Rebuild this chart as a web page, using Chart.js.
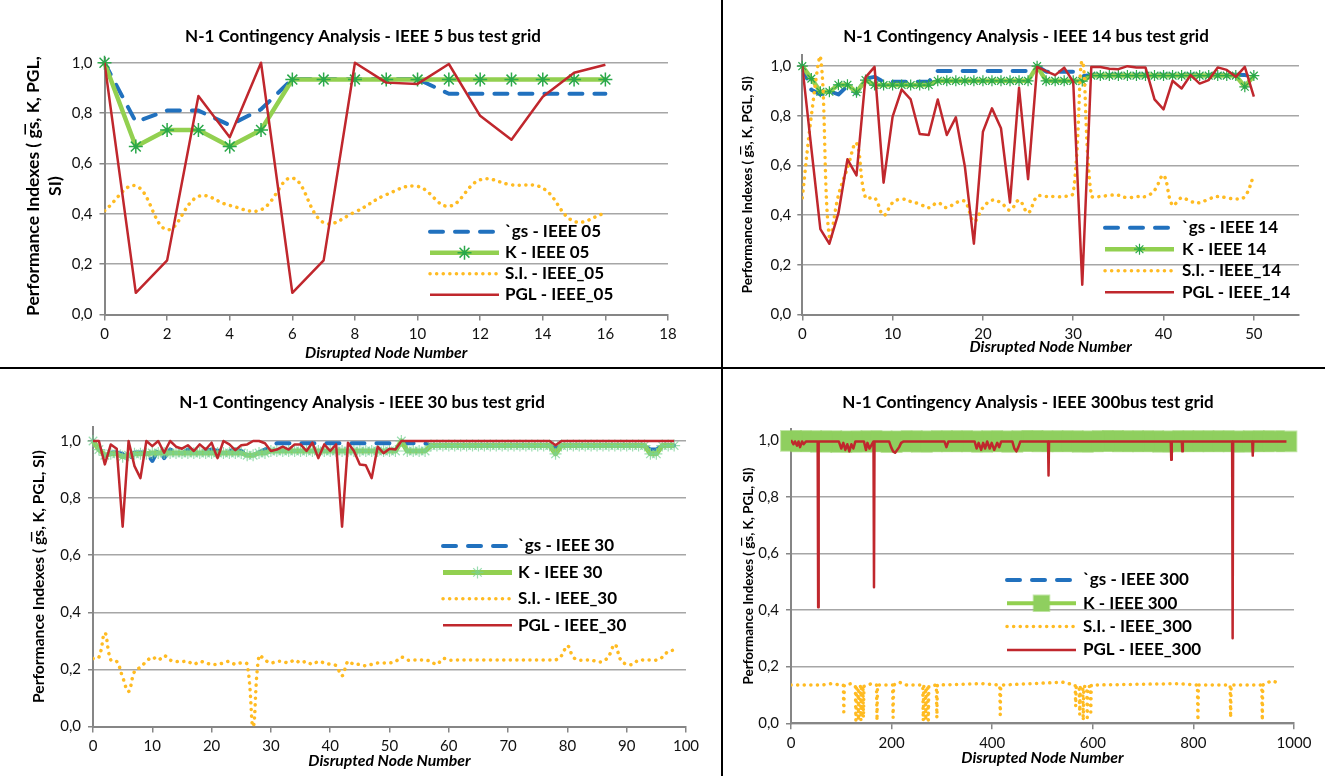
<!DOCTYPE html>
<html><head><meta charset="utf-8">
<script src="https://cdn.jsdelivr.net/npm/chart.js@4.4.1/dist/chart.umd.min.js"></script>
<style>
html,body{margin:0;padding:0;background:#fff;}
body{width:1325px;height:776px;position:relative;overflow:hidden;}
canvas{position:absolute;}
.vline{position:absolute;left:721px;top:0;width:2px;height:776px;background:#000;}
.hline{position:absolute;left:0;top:367px;width:1325px;height:2px;background:#000;}
</style></head><body>
<canvas id="c1" width="721" height="367" style="left:0;top:0"></canvas>
<canvas id="c2" width="601" height="367" style="left:724px;top:0"></canvas>
<canvas id="c3" width="721" height="406" style="left:0;top:370px"></canvas>
<canvas id="c4" width="601" height="406" style="left:724px;top:370px"></canvas>
<div class="vline"></div><div class="hline"></div>
<script>
// ---------------- DATA ----------------
const yTickLabels = ['0,0','0,2','0,4','0,6','0,8','1,0'];
const xAxisTitle = 'Disrupted Node Number';
const yAxisTitle = 'Performance Indexes ( g\u0305s, K, PGL, SI)';
const yAxisTitle2Lines = ['Performance Indexes ( g\u0305s, K, PGL,', 'SI)'];
const chartTitles = [
  'N-1 Contingency Analysis - IEEE 5 bus test grid',
  'N-1 Contingency Analysis - IEEE 14 bus test grid',
  'N-1 Contingency Analysis - IEEE 30 bus test grid',
  'N-1 Contingency Analysis - IEEE 300bus test grid'
];
const legend5   = ['`gs - IEEE 05','K - IEEE 05','S.I. - IEEE_05','PGL - IEEE_05'];
const legend14  = ['`gs - IEEE 14','K - IEEE 14','S.I. - IEEE_14','PGL - IEEE_14'];
const legend30  = ['`gs - IEEE 30','K - IEEE 30','S.I. - IEEE_30','PGL - IEEE_30'];
const legend300 = ['`gs - IEEE 300','K - IEEE 300','S.I. - IEEE_300','PGL - IEEE_300'];

// IEEE 5 (node 0..16)
const gs5  = [1.0,0.765,0.81,0.81,0.752,0.815,0.935,0.935,0.935,0.935,0.935,0.877,0.877,0.877,0.877,0.877,0.877];
const k5   = [1.0,0.667,0.733,0.733,0.667,0.733,0.933,0.933,0.933,0.933,0.933,0.933,0.933,0.933,0.933,0.933,0.933];
const si5  = [0.412,0.511,0.337,0.469,0.433,0.416,0.542,0.365,0.407,0.476,0.509,0.43,0.535,0.515,0.502,0.37,0.403];
const pgl5 = [1.0,0.086,0.215,0.868,0.704,1.0,0.086,0.215,1.0,0.921,0.916,0.995,0.789,0.694,0.865,0.96,0.992];

// IEEE 14 (node 0..50)
const gs14 = [1.0,0.905,0.886,0.9,0.886,0.92,0.89,0.95,0.957,
  0.937,0.937,0.937,0.937,0.937,0.937,
  0.981,0.981,0.981,0.981,0.981,0.981,0.981,0.981,0.981,0.981,0.981,
  1.0,0.978,0.978,0.978,0.978,0.96,
  0.965,0.965,0.965,0.965,0.965,0.965,0.965,0.965,0.965,0.965,0.965,0.965,0.965,0.965,0.965,0.965,0.965,
  0.964,0.96];
const k14 = [1.0,0.95,0.897,0.897,0.925,0.925,0.895,0.944,
  0.924,0.924,0.924,0.924,0.924,0.924,0.924,
  0.941,0.941,0.941,0.941,0.941,0.941,0.941,0.941,0.941,0.941,0.941,
  1.0,0.941,0.941,0.941,0.941,0.94,
  0.962,0.962,0.962,0.962,0.962,0.962,0.962,0.962,0.962,0.962,0.962,0.962,0.962,0.962,0.962,0.962,0.962,
  0.917,0.962];
const si14 = [0.47,0.80,1.04,0.31,0.48,0.59,0.69,0.47,0.47,0.40,
  0.45,0.465,0.455,0.445,0.43,0.45,0.43,0.45,0.455,0.375,
  0.43,0.46,0.45,0.42,0.46,0.41,0.475,0.475,0.475,0.475,
  0.49,1.02,0.48,0.475,0.48,0.48,0.47,0.475,0.475,0.50,
  0.56,0.44,0.47,0.455,0.45,0.465,0.475,0.47,0.465,0.475,0.56];
const pgl14 = [1.0,0.67,0.344,0.285,0.408,0.625,0.56,0.955,0.997,0.531,
  0.797,0.906,0.866,0.727,0.723,0.866,0.723,0.794,0.596,0.285,
  0.736,0.83,0.75,0.451,0.913,0.545,0.997,0.98,0.964,0.994,
  0.937,0.12,0.997,0.997,0.99,0.988,1.0,0.995,0.995,0.866,
  0.826,0.941,0.91,0.964,0.93,0.944,0.995,0.985,0.957,0.997,0.877];

// IEEE 30 (node 0..98)
const gs30 = [1.0,0.97,0.955,0.96,0.96,0.955,0.93,0.96,0.96,0.96,
  0.93,0.97,0.94,0.97,0.96,0.955,0.97,0.965,0.965,0.965,
  0.97,0.965,0.97,0.965,0.97,0.965,0.955,0.95,0.96,0.97,
  0.98,0.992,0.992,0.992,0.992,0.992,0.992,0.992,0.992,0.992,
  0.992,0.992,0.992,0.992,0.992,0.992,0.992,0.992,0.992,0.992,
  0.992,0.992,1.0,0.992,0.992,0.992,0.992,0.984,0.984,0.984,
  0.984,0.984,0.984,0.984,0.984,0.984,0.984,0.984,0.984,0.984,
  0.984,0.984,0.984,0.984,0.984,0.984,0.984,0.984,0.975,0.984,
  0.984,0.984,0.984,0.984,0.984,0.984,0.984,0.984,0.984,0.984,
  0.984,0.984,0.984,0.984,0.97,0.97,0.984,0.984,0.984];
const k30 = [1.0,0.97,0.95,0.955,0.955,0.945,0.95,0.955,0.955,0.955,
  0.958,0.958,0.958,0.958,0.958,0.958,0.958,0.958,0.958,0.958,
  0.958,0.958,0.958,0.958,0.958,0.958,0.95,0.95,0.958,0.958,
  0.965,0.965,0.965,0.965,0.965,0.965,0.965,0.965,0.965,0.965,
  0.965,0.965,0.965,0.965,0.965,0.965,0.965,0.965,0.965,0.965,
  0.965,0.965,1.0,0.965,0.965,0.965,0.965,0.984,0.984,0.984,
  0.984,0.984,0.984,0.984,0.984,0.984,0.984,0.984,0.984,0.984,
  0.984,0.984,0.984,0.984,0.984,0.984,0.984,0.984,0.955,0.984,
  0.984,0.984,0.984,0.984,0.984,0.984,0.984,0.984,0.984,0.984,
  0.984,0.984,0.984,0.984,0.955,0.955,0.984,0.984,0.984];
const si30 = [0.238,0.243,0.328,0.233,0.228,0.173,0.123,0.193,0.208,0.228,
  0.243,0.233,0.248,0.233,0.228,0.228,0.228,0.218,0.228,0.223,
  0.218,0.218,0.223,0.228,0.218,0.223,0.218,0.0,0.248,0.233,
  0.223,0.228,0.228,0.223,0.233,0.223,0.228,0.218,0.228,0.223,
  0.218,0.213,0.178,0.228,0.218,0.218,0.213,0.218,0.223,0.223,
  0.223,0.228,0.243,0.233,0.233,0.233,0.233,0.228,0.218,0.238,
  0.233,0.233,0.233,0.233,0.233,0.233,0.233,0.233,0.233,0.233,
  0.233,0.233,0.233,0.233,0.233,0.233,0.233,0.233,0.233,0.248,
  0.283,0.243,0.233,0.233,0.233,0.228,0.228,0.248,0.288,0.233,
  0.218,0.218,0.233,0.233,0.233,0.233,0.243,0.263,0.268];
const pgl30 = [1.0,1.0,0.918,0.988,0.973,0.70,1.0,0.912,0.87,1.0,
  0.982,1.0,0.959,1.0,0.98,0.973,0.985,0.965,0.988,0.97,
  0.994,0.94,1.0,0.988,0.968,0.985,0.988,1.0,1.0,0.992,
  0.965,0.97,0.98,0.97,0.988,0.988,0.965,0.994,0.94,0.988,
  0.965,0.988,0.70,0.994,0.965,0.918,0.915,0.87,0.98,0.957,
  0.973,0.97,1.0,1.0,1.0,1.0,1.0,1.0,1.0,1.0,
  1.0,1.0,1.0,1.0,1.0,1.0,1.0,1.0,1.0,1.0,
  1.0,1.0,1.0,1.0,1.0,1.0,1.0,1.0,0.985,1.0,
  1.0,1.0,1.0,1.0,1.0,1.0,1.0,1.0,1.0,1.0,
  1.0,1.0,1.0,1.0,1.0,1.0,1.0,1.0,1.0];

// IEEE 300 (sparse node / value pairs)
const gs300Nodes = [0,200,400,600,800,985];
const gs300Vals  = [0.99,0.99,0.99,0.99,0.99,0.99];
const k300Nodes = [0,20,40,60,80,100,120,140,160,180,200,220,240,260,280,300,320,340,360,380,400,420,440,460,480,500,520,540,560,580,600,620,640,660,680,700,720,740,760,780,800,820,840,860,880,900,920,940,960,985];
const k300Vals  = [0.997,0.995,0.996,0.994,0.996,0.993,0.995,0.994,0.996,0.995,0.993,0.995,0.996,0.994,0.995,0.996,0.995,0.996,0.995,0.994,0.996,0.995,0.994,0.996,0.997,0.995,0.996,0.995,0.996,0.994,0.995,0.996,0.997,0.995,0.996,0.995,0.996,0.994,0.995,0.996,0.995,0.996,0.995,0.996,0.995,0.994,0.996,0.995,0.996,0.995];
const si300Nodes = [0,60,80,100,104,105,106,120,128,129,130,133,134,135,138,139,140,143,144,145,160,170,171,172,202,203,204,215,230,262,263,264,267,268,269,272,273,274,289,290,291,380,415,416,417,540,565,566,567,573,574,575,580,581,582,588,589,590,595,596,597,770,808,809,810,873,874,875,936,937,938,955,975];
const si300Vals  = [0.135,0.135,0.14,0.135,0.135,0.04,0.135,0.14,0.13,0.01,0.13,0.13,0.01,0.13,0.13,0.01,0.13,0.13,0.02,0.13,0.14,0.135,0.01,0.135,0.135,0.02,0.135,0.145,0.135,0.135,0.01,0.13,0.13,0.01,0.13,0.13,0.01,0.13,0.135,0.02,0.135,0.14,0.135,0.03,0.135,0.145,0.135,0.06,0.13,0.13,0.03,0.13,0.13,0.01,0.13,0.13,0.02,0.13,0.13,0.04,0.135,0.14,0.135,0.01,0.135,0.135,0.02,0.135,0.135,0.01,0.135,0.15,0.14];
const pgl300Nodes = [0,5,8,12,15,18,22,25,30,53,54,55,95,100,104,108,112,116,120,124,128,145,149,152,156,164,165,166,195,199,203,207,211,215,219,224,305,309,313,365,369,373,378,382,386,390,395,399,404,410,414,418,440,444,448,452,456,511,512,513,755,756,757,777,778,779,877,878,879,917,918,919,985];
const pgl300Vals  = [1.0,0.985,0.995,0.98,0.995,0.975,0.995,0.985,0.995,0.995,0.41,0.995,0.995,0.97,0.99,0.965,0.985,0.96,0.985,0.97,0.995,0.995,0.965,0.99,0.97,0.995,0.48,0.995,0.995,0.975,0.96,0.955,0.965,0.975,0.99,0.995,0.995,0.975,0.995,0.995,0.97,0.99,0.965,0.99,0.97,0.995,0.97,0.99,0.965,0.99,0.975,0.995,0.995,0.97,0.96,0.975,0.995,0.995,0.875,0.995,0.995,0.93,0.995,0.995,0.96,0.995,0.995,0.30,0.995,0.995,0.945,0.995,0.995];

// ---------------- STYLE / HELPERS ----------------
const FONT = 'Lato, "Liberation Sans", Arial, sans-serif';
const COL = {gs:'#2171be', kLine:'#92d050', kMark:'#2aa84a', si:'#ffbb22', pgl:'#c0272d', grid:'#a6a6a6', axis:'#868686'};
const seq = vals => vals.map((v,i)=>({x:i,y:v}));
const pairs = (xs,ys) => xs.map((x,i)=>({x:x,y:ys[i]}));

function dsGs(data){ return {data, borderColor:COL.gs, borderWidth:4, borderDash:[13,12], borderCapStyle:'round', borderJoinStyle:'round', pointRadius:0, order:3}; }
function dsK(data, m){ return {data, borderColor:COL.kLine, borderWidth:m.lw, borderJoinStyle:'round', pointStyle:m.style, pointRadius:m.r, pointBorderColor:m.color, pointBackgroundColor:m.fill, pointBorderWidth:m.bw, order:2, clip:false}; }
function dsSi(data, t){ return {data, borderColor:COL.si, borderWidth:3.5, borderDash:[0.1,6.5], borderCapStyle:'round', borderJoinStyle:'round', pointRadius:0, tension:t, order:1}; }
function dsPgl(data){ return {data, borderColor:COL.pgl, borderWidth:2.5, borderJoinStyle:'round', pointRadius:0, order:0}; }

// draws the chart title and the in-plot legend box
const boxLegend = {
  id:'boxLegend',
  afterDraw(chart, args, o){
    if(!o || !o.labels) return;
    const ctx = chart.ctx;
    ctx.save();
    ctx.fillStyle = '#000'; ctx.font = 'bold ' + o.titleSize + 'px ' + FONT;
    ctx.textAlign = 'center'; ctx.textBaseline = 'middle';
    ctx.fillText(o.title, o.titleX, o.titleY);
    ctx.restore();
    o.labels.forEach((lab,i)=>{
      const d = chart.data.datasets[i];
      const y = o.y0 + i*o.dy;
      ctx.save();
      ctx.strokeStyle = d.borderColor; ctx.lineWidth = d.borderWidth;
      ctx.setLineDash(d.borderDash || []); ctx.lineCap = d.borderCapStyle || 'butt';
      ctx.beginPath(); ctx.moveTo(o.x1, y); ctx.lineTo(o.x2, y); ctx.stroke();
      if (d.pointRadius > 0) {
        ctx.setLineDash([]);
        ctx.fillStyle = d.pointBackgroundColor; ctx.strokeStyle = d.pointBorderColor; ctx.lineWidth = d.pointBorderWidth;
        Chart.helpers.drawPoint(ctx, {pointStyle:d.pointStyle, radius:o.markR || d.pointRadius, rotation:0, borderWidth:d.pointBorderWidth}, (o.x1+o.x2)/2, y);
      }
      ctx.fillStyle = '#000'; ctx.font = 'bold ' + o.size + 'px ' + FONT;
      ctx.textAlign = 'left'; ctx.textBaseline = 'middle';
      ctx.fillText(lab, o.tx, y);
      ctx.restore();
    });
  }
};

function build(id, g, datasets, legend){
  const cv = document.getElementById(id);
  const W = cv.width, H = cv.height;
  const tickFont = {family:FONT, size:g.tickSize};
  legend.title = g.title; legend.titleX = g.titleX; legend.titleY = g.titleY; legend.titleSize = 17;
  return new Chart(cv, {
    type:'line',
    data:{datasets},
    options:{
      responsive:false, animation:false, devicePixelRatio:1,
      layout:{padding:{left:0, top:g.top, right:W - g.right, bottom:H - g.bottom - g.xH}},
      plugins:{
        legend:{display:false}, tooltip:{enabled:false}, title:{display:false},
        boxLegend: legend
      },
      scales:{
        x:{type:'linear', min:0, max:g.xmax,
          ticks:{stepSize:g.xstep, includeBounds:false, autoSkip:false, maxRotation:0, font:tickFont, color:'#111', padding:g.xPad, callback:v=>String(v)},
          grid:{drawOnChartArea:false, drawTicks:true, tickLength:6, color:COL.axis, lineWidth:1.5},
          border:{color:COL.axis, width:2},
          title:{display:true, text:xAxisTitle, color:'#000', padding:0, font:{family:FONT, size:15.8, weight:'bold', style:'italic', lineHeight:1.2}},
          afterFit(s){ s.height = g.xH; }
        },
        y:{min:0, max:g.ymax,
          ticks:{stepSize:0.2, includeBounds:false, font:tickFont, color:'#111', padding:g.yPad, callback:v=>yTickLabels[Math.round(v/0.2)]},
          grid:{color:COL.grid, lineWidth:1.5, tickLength:5, tickColor:COL.axis, drawTicks:true},
          border:{color:COL.axis, width:2},
          title:{display:true, text:g.yTitle, color:'#000', padding:{top:g.yTitlePad, bottom:0}, font:{family:FONT, size:g.yTitleSize, weight:'bold', lineHeight:g.yTitleLH}},
          afterFit(s){ s.width = g.left; }
        }
      }
    },
    plugins:[boxLegend]
  });
}

// ---------------- CHARTS ----------------
build('c1', {title:chartTitles[0], titleX:363, titleY:37, left:104.5, right:668, top:57.7, bottom:314.5, xH:48, xmax:18, xstep:2, ymax:1.02,
  tickSize:15, xPad:5, yPad:7, yTitle:yAxisTitle2Lines, yTitleSize:17.5, yTitleLH:1.3, yTitlePad:21.5},
  [dsGs(seq(gs5)), dsK(seq(k5),{style:'star', r:7, color:COL.kMark, fill:COL.kMark, bw:1.5, lw:4.5}), dsSi(seq(si5),0.4), dsPgl(seq(pgl5))],
  {labels:legend5, x1:430, x2:499, tx:505, y0:231.7, dy:21, size:17});

build('c2', {title:chartTitles[1], titleX:302, titleY:37, left:78.3, right:575, top:55, bottom:314.5, xH:42, xmax:55, xstep:10, ymax:1.045,
  tickSize:15, xPad:5, yPad:6, yTitle:yAxisTitle, yTitleSize:13.4, yTitleLH:1.2, yTitlePad:16},
  [dsGs(seq(gs14)), dsK(seq(k14),{style:'star', r:5.5, color:COL.kMark, fill:COL.kMark, bw:1.2, lw:4.5}), dsSi(seq(si14),0.4), dsPgl(seq(pgl14))],
  {labels:legend14, x1:381, x2:450, tx:458, y0:227.7, dy:21.5, size:17});

build('c3', {title:chartTitles[2], titleX:362, titleY:32.7, left:93, right:686, top:56.7, bottom:356.6, xH:43.5, xmax:100, xstep:10, ymax:1.05,
  tickSize:15, xPad:5, yPad:7, yTitle:yAxisTitle, yTitleSize:15.6, yTitleLH:1.2, yTitlePad:30},
  [dsGs(seq(gs30)), dsK(seq(k30),{style:'star', r:6, color:'rgba(120,210,150,0.75)', fill:'rgba(120,210,150,0.75)', bw:1.2, lw:5}), dsSi(seq(si30),0.4), dsPgl(seq(pgl30))],
  {labels:legend30, x1:443, x2:512, tx:518, y0:176, dy:26.4, size:17});

build('c4', {title:chartTitles[3], titleX:304, titleY:32.7, left:67, right:570, top:58.7, bottom:353.3, xH:44, xmax:1000, xstep:200, ymax:1.04,
  tickSize:15, xPad:5, yPad:7, yTitle:yAxisTitle, yTitleSize:13.4, yTitleLH:1.2, yTitlePad:17},
  [dsGs(pairs(gs300Nodes,gs300Vals)), dsK(pairs(k300Nodes,k300Vals),{style:'rect', r:14, color:'rgba(143,207,95,0.55)', fill:'#8fcf5f', bw:2, lw:4}), dsSi(pairs(si300Nodes,si300Vals),0), dsPgl(pairs(pgl300Nodes,pgl300Vals))],
  {labels:legend300, x1:283, x2:352, tx:359, y0:210, dy:23.3, size:17, markR:11});
</script>
</body></html>
